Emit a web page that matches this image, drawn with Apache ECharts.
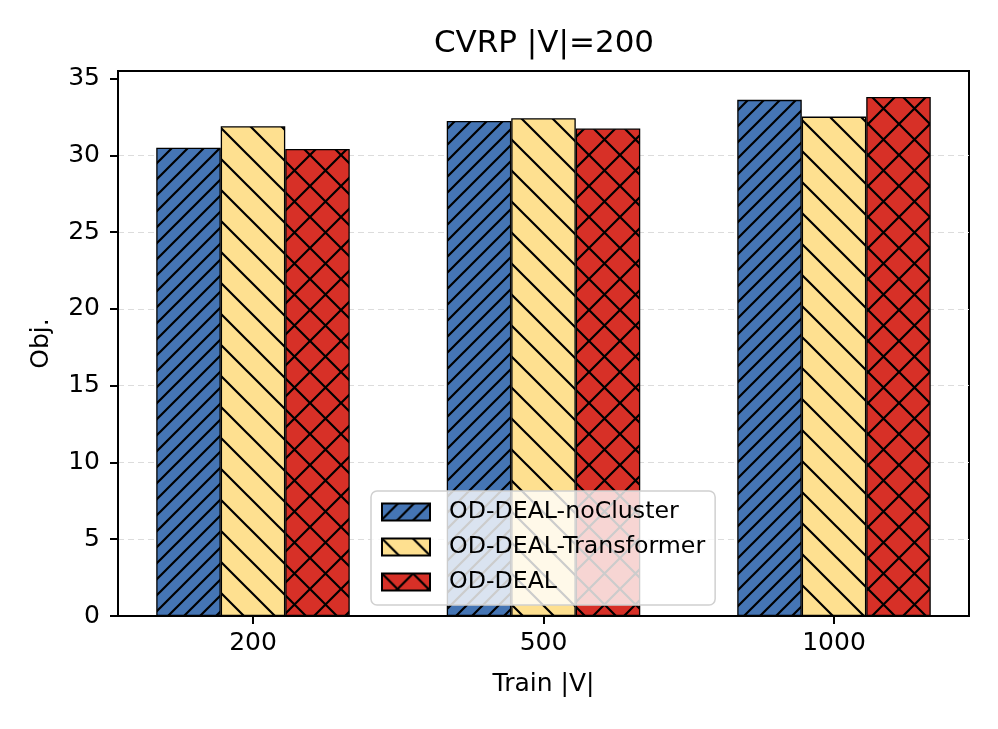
<!DOCTYPE html>
<html>
<head>
<meta charset="utf-8">
<script src="https://cdn.jsdelivr.net/npm/echarts@6/dist/echarts.min.js"></script>
<style>
  html, body { margin: 0; padding: 0; background: #fff; }
  #main { width: 998px; height: 729px; }
</style>
</head>
<body>
<div id="main"></div>
<script>
var categories = ['200', '500', '1000'];
var seriesNames = ['OD-DEAL-noCluster', 'OD-DEAL-Transformer', 'OD-DEAL'];
var noCluster = [30.5, 32.25, 33.62];
var transformer = [31.9, 32.42, 32.53];
var odDeal = [30.42, 31.75, 33.81];
var yTicks = [0, 5, 10, 15, 20, 25, 30, 35];

var FONT = 'DejaVu Sans';

// hatch fill like matplotlib: '/' , '\' or 'x'
function hatch(bg, size, kind) {
  var c = document.createElement('canvas');
  c.width = size;
  c.height = size;
  var ctx = c.getContext('2d');
  ctx.fillStyle = bg;
  ctx.fillRect(0, 0, size, size);
  ctx.strokeStyle = '#000';
  ctx.lineWidth = 2.2;
  ctx.lineCap = 'square';
  ctx.beginPath();
  for (var k = -size; k <= size; k += size) {
    if (kind === '/' || kind === 'x') {
      ctx.moveTo(k, size);
      ctx.lineTo(k + size, 0);
    }
    if (kind === '\\' || kind === 'x') {
      ctx.moveTo(k, 0);
      ctx.lineTo(k + size, size);
    }
  }
  ctx.stroke();
  return { image: c, repeat: 'repeat' };
}

var fills = [
  hatch('#4575b4', 16, '/'),
  hatch('#fee090', 31, '\\'),
  hatch('#d73027', 31, 'x')
];
var values = [noCluster, transformer, odDeal];

var chart = echarts.init(document.getElementById('main'), null, { renderer: 'canvas' });

var option = {
  backgroundColor: '#fff',
  animation: false,
  textStyle: { fontFamily: FONT },
  title: {
    text: 'CVRP |V|=200',
    left: 544,
    textAlign: 'center',
    top: 28,
    padding: 0,
    textStyle: { fontFamily: FONT, fontSize: 31, fontWeight: 'normal', color: '#000' }
  },
  legend: {
    orient: 'vertical',
    left: 371,
    top: 491,
    padding: [9, 10, 11, 10],
    itemWidth: 48,
    itemHeight: 17,
    itemGap: 11,
    icon: 'rect',
    backgroundColor: 'rgba(255,255,255,0.8)',
    borderColor: '#d0d0d0',
    borderWidth: 1.5,
    borderRadius: 6,
    textStyle: { fontFamily: FONT, fontSize: 23.7, color: '#000', lineHeight: 24, padding: [0, 0, 0, 14] },
    data: seriesNames
  },
  grid: [
    { left: 118, top: 71, width: 851, height: 545, show: true, borderColor: '#000', borderWidth: 2, backgroundColor: 'transparent' },
    { left: 107.75, top: 71, width: 871.5, height: 545 }
  ],
  xAxis: [
    { gridIndex: 0, type: 'value', show: false, min: 0, max: 1 },
    {
      gridIndex: 1,
      type: 'category',
      data: categories,
      axisLine: { show: false },
      axisTick: { show: true, alignWithLabel: true, length: 8, lineStyle: { color: '#000', width: 2 } },
      axisLabel: { fontFamily: FONT, fontSize: 25, color: '#000', margin: 15 },
      name: 'Train |V|',
      nameLocation: 'middle',
      nameGap: 56,
      nameTextStyle: { fontFamily: FONT, fontSize: 25, color: '#000' }
    }
  ],
  yAxis: [
    {
      gridIndex: 0,
      type: 'value',
      min: 0,
      max: 35.5,
      interval: 5,
      axisLine: { show: true, lineStyle: { color: '#000', width: 2 } },
      axisTick: { show: true, length: 8, customValues: yTicks, lineStyle: { color: '#000', width: 2 } },
      axisLabel: { fontFamily: FONT, fontSize: 25, color: '#000', margin: 18, customValues: yTicks },
      splitLine: { show: true, showMinLine: false, showMaxLine: false, lineStyle: { color: '#dcdcdc', type: [6, 4], width: 1.2 } },
      name: 'Obj.',
      nameLocation: 'middle',
      nameGap: 64,
      nameTextStyle: { fontFamily: FONT, fontSize: 25, color: '#000' }
    },
    { gridIndex: 1, type: 'value', min: 0, max: 35.5, show: false, splitLine: { show: false } }
  ],
  series: seriesNames.map(function (name, i) {
    return {
      name: name,
      type: 'bar',
      xAxisIndex: 1,
      yAxisIndex: 1,
      barWidth: 64.5,
      barGap: '0%',
      data: values[i],
      itemStyle: { color: fills[i], borderColor: '#000', borderWidth: 1.3 },
      emphasis: { disabled: true }
    };
  })
};

chart.setOption(option);
</script>
</body>
</html>
